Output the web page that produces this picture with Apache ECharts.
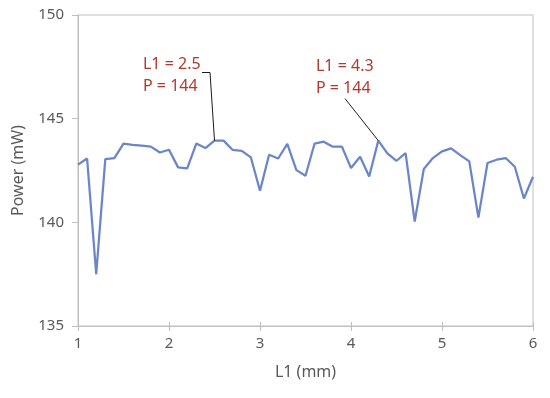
<!DOCTYPE html>
<html>
<head>
<meta charset="utf-8">
<script src="https://cdn.jsdelivr.net/npm/echarts@6/dist/echarts.min.js"></script>
<style>html,body{margin:0;padding:0;background:#fff;}#c{width:550px;height:398px;}</style>
</head>
<body>
<div id="c"></div>
<script>
// L1 (mm) positions
var l1Values = [1.0,1.1,1.2,1.3,1.4,1.5,1.6,1.7,1.8,1.9,2.0,2.1,2.2,2.3,2.4,2.5,2.6,2.7,2.8,2.9,3.0,3.1,3.2,3.3,3.4,3.5,3.6,3.7,3.8,3.9,4.0,4.1,4.2,4.3,4.4,4.5,4.6,4.7,4.8,4.9,5.0,5.1,5.2,5.3,5.4,5.5,5.6,5.7,5.8,5.9,6.0];
// Power (mW)
var powerValues = [142.78,143.08,137.5,143.05,143.1,143.8,143.74,143.7,143.65,143.37,143.5,142.65,142.6,143.8,143.58,143.94,143.94,143.49,143.45,143.13,141.52,143.26,143.08,143.78,142.52,142.25,143.8,143.89,143.65,143.65,142.62,143.16,142.21,143.94,143.33,142.97,143.34,140.04,142.57,143.1,143.42,143.57,143.24,142.94,140.23,142.86,143.02,143.1,142.68,141.15,142.2];
var xTicks = [1,2,3,4,5,6];
var yTicks = [135,140,145,150];
// annotations (text anchored at its left edge, vertical middle)
var annotations = [
  {text: ['L1 = 2.5', 'P = 144'], textAt: [1.714, 147.08], leader: [[2.363,147.22],[2.451,147.22],[2.5,143.94]]},
  {text: ['L1 = 4.3', 'P = 144'], textAt: [3.615, 147.0], leader: [[3.934,145.97],[4.3,143.94]]}
];

var seriesData = l1Values.map(function(x,i){return [x, powerValues[i]];});
var markLines = [];
annotations.forEach(function(a){
  for (var i=0;i<a.leader.length-1;i++){
    markLines.push([{coord:a.leader[i]},{coord:a.leader[i+1]}]);
  }
});
var markPoints = annotations.map(function(a){
  return {coord:a.textAt, value:a.text.join('\n')};
});

var font = 'Noto Sans';
var axisGrey = '#BFBFBF';
var chart = echarts.init(document.getElementById('c'));
chart.setOption({
  animation:false,
  textStyle:{fontFamily:font},
  grid:{left:78, right:17, top:15, bottom:72, show:true, borderColor:axisGrey, borderWidth:1},
  xAxis:[{
    type:'value', min:xTicks[0], max:xTicks[xTicks.length-1], interval:1,
    name:'L1 (mm)', nameLocation:'middle', nameGap:38,
    nameTextStyle:{color:'#595959', fontSize:16, fontFamily:font},
    axisLine:{show:true, lineStyle:{color:axisGrey, width:1}},
    axisTick:{show:true, length:5, lineStyle:{color:axisGrey}},
    axisLabel:{color:'#595959', fontSize:15, margin:10, fontFamily:font},
    splitLine:{show:false}
  },{
    type:'value', min:xTicks[0], max:xTicks[xTicks.length-1], interval:1, position:'bottom',
    axisLine:{show:false},
    axisTick:{show:true, inside:true, length:4, lineStyle:{color:axisGrey}},
    axisLabel:{show:false}, splitLine:{show:false}
  }],
  yAxis:{
    type:'value', min:yTicks[0], max:yTicks[yTicks.length-1], interval:5,
    name:'Power (mW)', nameLocation:'middle', nameGap:52,
    nameTextStyle:{color:'#595959', fontSize:16, fontFamily:font},
    axisLine:{show:true, lineStyle:{color:axisGrey, width:1}},
    axisTick:{show:true, length:6, lineStyle:{color:axisGrey}},
    axisLabel:{color:'#595959', fontSize:15, margin:14, fontFamily:font},
    splitLine:{show:false}
  },
  series:[{
    type:'line', data:seriesData, xAxisIndex:0, showSymbol:false, symbol:'none',
    lineStyle:{color:'#6A85C8', width:2.25},
    markLine:{silent:true, symbol:'none', label:{show:false},
      lineStyle:{color:'#1a1a1a', width:1, type:'solid'}, data:markLines},
    markPoint:{silent:true, symbol:'circle', symbolSize:1, itemStyle:{color:'rgba(0,0,0,0)'},
      label:{show:true, position:'inside', align:'left', verticalAlign:'middle', color:'#B0392E', fontSize:16, lineHeight:22, fontFamily:font,
        formatter:function(p){return p.value;}},
      data:markPoints}
  }]
});
</script>
</body>
</html>
